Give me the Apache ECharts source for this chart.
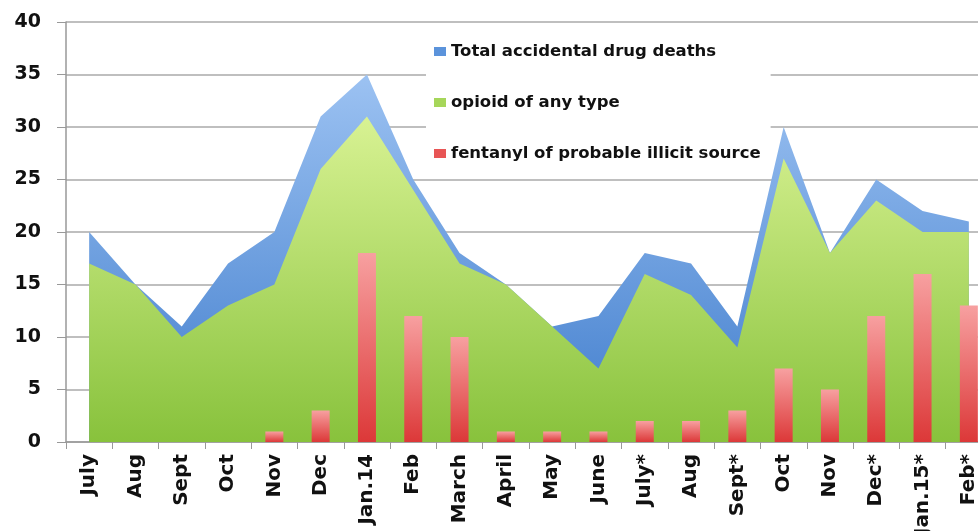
<!DOCTYPE html>
<html>
<head>
<meta charset="utf-8">
<script src="https://cdn.jsdelivr.net/npm/echarts@6/dist/echarts.min.js"></script>
<style>html,body{margin:0;padding:0;background:#fff;overflow:hidden}#c{width:1000px;height:531px}</style>
</head>
<body>
<div id="c"></div>
<script>
const categories = ['July','Aug','Sept','Oct','Nov','Dec','Jan.14','Feb','March','April','May','June','July*','Aug','Sept*','Oct','Nov','Dec*','Jan.15*','Feb*'];
const totalDeaths = [20,15,11,17,20,31,35,25,18,15,11,12,18,17,11,30,18,25,22,21];
const opioidAny = [17,15,10,13,15,26,31,24,17,15,11,7,16,14,9,27,18,23,20,20];
const fentanylIllicit = [0,0,0,0,1,3,18,12,10,1,1,1,2,2,3,7,5,12,16,13];
const yTicks = [0,5,10,15,20,25,30,35,40];

const chart = echarts.init(document.getElementById('c'), null, {renderer:'canvas'});
const font = 'DejaVu Sans';
const grad = (a,b) => new echarts.graphic.LinearGradient(0,0,0,1,[{offset:0,color:a},{offset:1,color:b}]);
chart.setOption({
  animation:false,
  backgroundColor:'#fff',
  grid:{left:66, top:22, width:926, height:420, containLabel:false, outerBoundsMode:'none'},
  legend:{
    orient:'vertical', left:426, top:35, width:346,
    backgroundColor:'#fff', padding:[8,10,8,8],
    itemWidth:12, itemHeight:9, itemGap:34, icon:'rect',
    textStyle:{fontFamily:font, fontWeight:'bold', fontSize:16.5, color:'#111'},
    data:[
      {name:'Total accidental drug deaths', icon:'rect', itemStyle:{color:'#5b93db'}},
      {name:'opioid of any type', icon:'rect', itemStyle:{color:'#a6d65a'}},
      {name:'fentanyl of probable illicit source', icon:'rect', itemStyle:{color:'#e85555'}}
    ]
  },
  xAxis:{
    type:'category', data:categories, boundaryGap:true,
    axisLine:{lineStyle:{color:'#999', width:1.5}},
    axisTick:{show:true, length:7, lineStyle:{color:'#999'}},
    axisLabel:{rotate:90, margin:12, fontFamily:font, fontWeight:'bold', fontSize:20, color:'#111'}
  },
  yAxis:{
    type:'value', min:0, max:40, interval:5,
    axisLine:{show:true, lineStyle:{color:'#999', width:1.5}},
    axisTick:{show:true, length:9, lineStyle:{color:'#999'}},
    splitLine:{lineStyle:{color:'#aaa', width:1.5}},
    axisLabel:{margin:25, fontFamily:font, fontWeight:'bold', fontSize:19, color:'#111',
      formatter:v => yTicks.includes(v) ? String(v) : ''}
  },
  series:[
    {name:'Total accidental drug deaths', type:'line', data:totalDeaths, symbol:'none',
     lineStyle:{width:0}, itemStyle:{color:'#5b93db'},
     areaStyle:{opacity:1, color:grad('#9cc2f2','#3f7ccc')}, z:1},
    {name:'opioid of any type', type:'line', data:opioidAny, symbol:'none',
     lineStyle:{width:0}, itemStyle:{color:'#a6d65a'},
     areaStyle:{opacity:1, color:grad('#d8f293','#88c23c')}, z:2},
    {name:'fentanyl of probable illicit source', type:'bar', data:fentanylIllicit, barWidth:18,
     itemStyle:{color:grad('#f7a0a0','#dc3838')}, z:3}
  ]
});
</script>
</body>
</html>
